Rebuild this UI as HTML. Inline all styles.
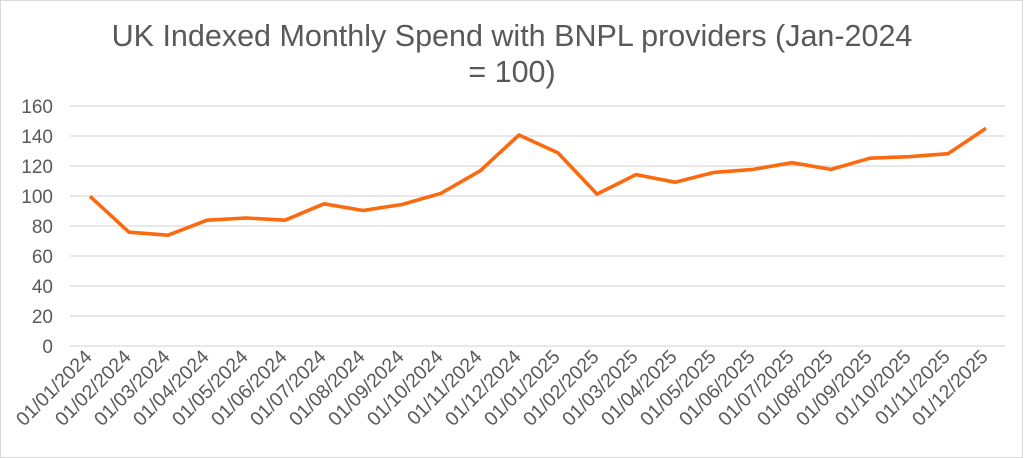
<!DOCTYPE html>
<html><head><meta charset="utf-8"><style>
body{margin:0;background:#fff;}
svg{display:block;font-family:"Liberation Sans",sans-serif;}
</style></head><body>
<svg width="1024" height="458" viewBox="0 0 1024 458">
<rect x="0.5" y="0.5" width="1022" height="457" fill="#fff" stroke="#d9d9d9"/>
<text x="512" y="46" font-size="30.5" fill="#595959" text-anchor="middle">UK Indexed Monthly Spend with BNPL providers (Jan-2024</text>
<text x="512" y="82" font-size="30.5" fill="#595959" text-anchor="middle">= 100)</text>
<g stroke="#d9d9d9" stroke-width="1.3">
<line x1="70" x2="1005" y1="106" y2="106"/><line x1="70" x2="1005" y1="136" y2="136"/>
<line x1="70" x2="1005" y1="166" y2="166"/><line x1="70" x2="1005" y1="196" y2="196"/>
<line x1="70" x2="1005" y1="226" y2="226"/><line x1="70" x2="1005" y1="256" y2="256"/>
<line x1="70" x2="1005" y1="286" y2="286"/><line x1="70" x2="1005" y1="316" y2="316"/>
<line x1="70" x2="1005" y1="346" y2="346"/>
</g>
<g font-size="19" fill="#595959" text-anchor="end">
<text x="53" y="113">160</text><text x="53" y="143">140</text><text x="53" y="173">120</text>
<text x="53" y="203">100</text><text x="53" y="233">80</text><text x="53" y="263">60</text>
<text x="53" y="293">40</text><text x="53" y="323">20</text><text x="53" y="353">0</text>
</g>
<polyline fill="none" stroke="#fb6a0e" stroke-width="3.6" stroke-linejoin="round" points="90,196.3 129,232.2 168,235.2 207,220.2 246,218 285,220.2 324,203.8 363,210.5 402,204.5 441,193.3 480,170.9 519,135 558,152.9 597,194.1 636,174.6 675,182.2 714,172.4 753,169.4 792,162.7 831,169.4 870,158.2 909,156.7 948,153.7 986,128.3"/>
<g font-size="19.5" fill="#595959" text-anchor="end">
<text transform="translate(93,358) rotate(-45)">01/01/2024</text>
<text transform="translate(132,358) rotate(-45)">01/02/2024</text>
<text transform="translate(171,358) rotate(-45)">01/03/2024</text>
<text transform="translate(210,358) rotate(-45)">01/04/2024</text>
<text transform="translate(249,358) rotate(-45)">01/05/2024</text>
<text transform="translate(288,358) rotate(-45)">01/06/2024</text>
<text transform="translate(327,358) rotate(-45)">01/07/2024</text>
<text transform="translate(366,358) rotate(-45)">01/08/2024</text>
<text transform="translate(405,358) rotate(-45)">01/09/2024</text>
<text transform="translate(444,358) rotate(-45)">01/10/2024</text>
<text transform="translate(483,358) rotate(-45)">01/11/2024</text>
<text transform="translate(522,358) rotate(-45)">01/12/2024</text>
<text transform="translate(561,358) rotate(-45)">01/01/2025</text>
<text transform="translate(600,358) rotate(-45)">01/02/2025</text>
<text transform="translate(639,358) rotate(-45)">01/03/2025</text>
<text transform="translate(678,358) rotate(-45)">01/04/2025</text>
<text transform="translate(717,358) rotate(-45)">01/05/2025</text>
<text transform="translate(756,358) rotate(-45)">01/06/2025</text>
<text transform="translate(795,358) rotate(-45)">01/07/2025</text>
<text transform="translate(834,358) rotate(-45)">01/08/2025</text>
<text transform="translate(873,358) rotate(-45)">01/09/2025</text>
<text transform="translate(912,358) rotate(-45)">01/10/2025</text>
<text transform="translate(951,358) rotate(-45)">01/11/2025</text>
<text transform="translate(989,358) rotate(-45)">01/12/2025</text>
</g>
</svg>
</body></html>
